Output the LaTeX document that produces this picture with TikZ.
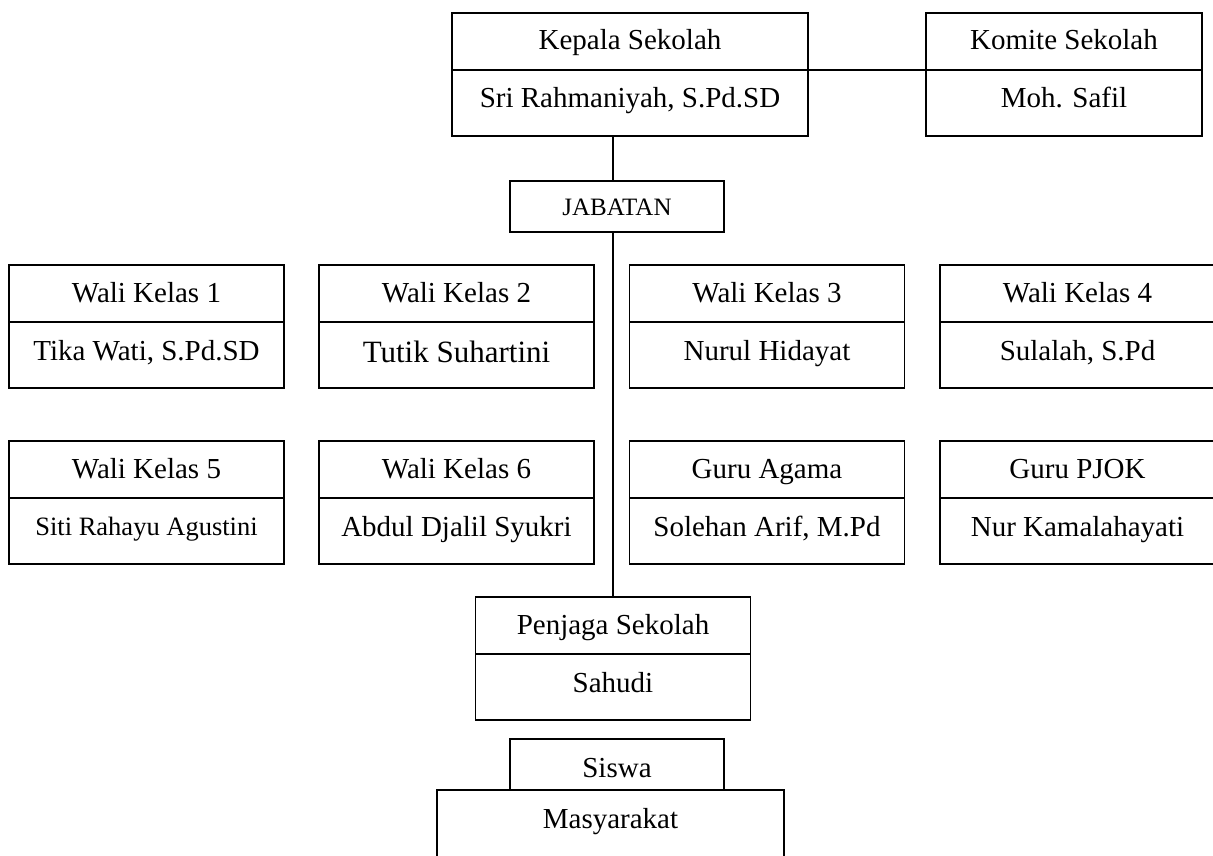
\documentclass[tikz,border=0pt]{standalone}
\usepackage{fontspec}
\setmainfont{Liberation Serif}
\usetikzlibrary{positioning}

\tikzset{
  box/.style={draw, line width=1.8pt, inner sep=0pt, outer sep=0pt, minimum width=275pt},
  judul/.style={box, text height=37pt, text depth=20pt, font=\fontsize{29}{34}\selectfont},
  isi/.style={box, text height=38pt, text depth=28pt, font=\fontsize{29}{34}\selectfont},
  garis/.style={line width=1.8pt}
}

\begin{document}
\begin{tikzpicture}[x=1pt, y=-1pt]
  \useasboundingbox (0,0) rectangle (1213,856);

  \node[judul, minimum width=356pt, anchor=north] (kepala) at (630,13) {Kepala Sekolah};
  \node[isi, minimum width=356pt, below=0pt of kepala] (kepala-n) {Sri Rahmaniyah, S.Pd.SD};
  \node[judul, minimum width=276pt, anchor=north] (komite) at (1064,13) {Komite Sekolah};
  \node[isi, minimum width=276pt, below=0pt of komite] (komite-n) {Moh. Safil};

  \node[box, minimum width=214pt, text height=34pt, text depth=17pt,
    font=\fontsize{25}{30}\selectfont, anchor=north] (jabatan) at (617,181) {JABATAN};

  \foreach \x/\y/\id/\jab/\nama/\fs/\th in {
    146.5/265/wk1/Wali Kelas 1/{Tika Wati, S.Pd.SD}/29/38,
    456.5/265/wk2/Wali Kelas 2/Tutik Suhartini/31/40,
    767/265/wk3/Wali Kelas 3/Nurul Hidayat/29/38,
    1077.5/265/wk4/Wali Kelas 4/{Sulalah, S.Pd}/29/38,
    146.5/441/wk5/Wali Kelas 5/Siti Rahayu Agustini/26.5/37,
    456.5/441/wk6/Wali Kelas 6/Abdul Djalil Syukri/29/38,
    767/441/agama/Guru Agama/{Solehan Arif, M.Pd}/29/38,
    1077.5/441/pjok/Guru PJOK/Nur Kamalahayati/29/38} {
    \node[judul, anchor=north] (\id) at (\x,\y) {\jab};
    \node[isi, below=0pt of \id, text height=\th pt, text depth=66pt-\th pt,
      font=\fontsize{\fs}{34}\selectfont] (\id-n) {\nama};
  }

  \node[judul, anchor=north] (penjaga) at (613,597) {Penjaga Sekolah};
  \node[isi, below=0pt of penjaga] (penjaga-n) {Sahudi};

  \node[box, minimum width=214pt, text height=38pt, text depth=13pt,
    font=\fontsize{29}{34}\selectfont, anchor=north] (siswa) at (617,739) {Siswa};
  \node[box, minimum width=347pt, text height=38pt, text depth=42pt,
    font=\fontsize{29}{34}\selectfont, anchor=north] (masyarakat) at (610.5,790) {Masyarakat};

  \draw[garis] (kepala-n.north east) -- (komite-n.north west);
  \draw[garis] (kepala-n.south -| penjaga.north) -- (jabatan.north -| penjaga.north);
  \draw[garis] (jabatan.south -| penjaga.north) -- (penjaga.north);
\end{tikzpicture}
\end{document}
